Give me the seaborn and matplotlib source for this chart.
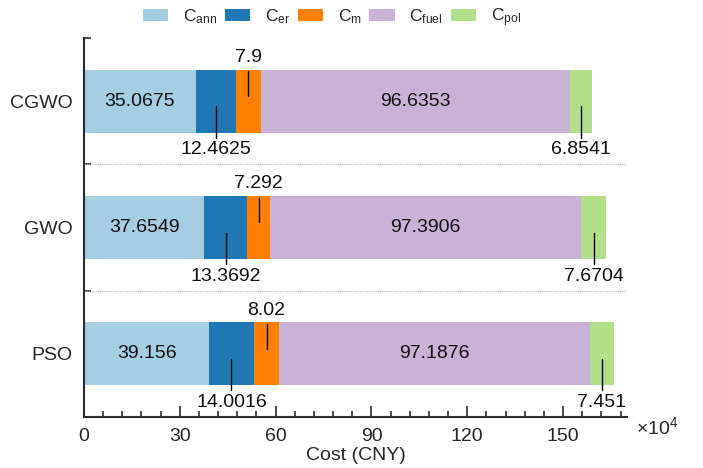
import numpy as np
import pandas as pd
import matplotlib
matplotlib.use("Agg")
import matplotlib.pyplot as plt
from matplotlib.patches import Patch
from matplotlib.ticker import MultipleLocator, FixedLocator
import seaborn as sns

methods = ["CGWO", "GWO", "PSO"]
c_ann = [35.0675, 37.6549, 39.156]
c_er = [12.4625, 13.3692, 14.0016]
c_m = [7.9, 7.292, 8.02]
c_fuel = [96.6353, 97.3906, 97.1876]
c_pol = [6.8541, 7.6704, 7.451]
comp_labels = [r"C$_{\mathrm{ann}}$", r"C$_{\mathrm{er}}$", r"C$_{\mathrm{m}}$",
               r"C$_{\mathrm{fuel}}$", r"C$_{\mathrm{pol}}$"]
colors = ["#a6cee3", "#1f78b4", "#ff7f00", "#cab2d6", "#b2df8a"]
# label placement per component: inside / below / above
placement = ["in", "below", "above", "in", "below"]

sns.set_style("ticks")
plt.rcParams["font.family"] = ["Liberation Sans", "DejaVu Sans"]
plt.rcParams["mathtext.fontset"] = "custom"
plt.rcParams["mathtext.rm"] = "Liberation Sans"
plt.rcParams["mathtext.it"] = "Liberation Sans"
plt.rcParams["mathtext.default"] = "regular"

vals = np.array([c_ann, c_er, c_m, c_fuel, c_pol])  # (5, 3)
cum = np.cumsum(vals, axis=0)
starts = cum - vals

fig = plt.figure(figsize=(7.03, 4.68), dpi=100)
ax = fig.add_axes([84 / 703, 1 - 417 / 468, 543 / 703, 379 / 468])

# draw cumulative bars from the last component to the first so they stack
for i in range(len(comp_labels) - 1, -1, -1):
    df = pd.DataFrame({"method": methods, "value": cum[i]})
    sns.barplot(data=df, x="value", y="method", orient="h", color=colors[i],
                width=0.5, ax=ax, saturation=1, linewidth=0, edgecolor="none")

fs = 14
for j in range(len(methods)):
    for i in range(len(comp_labels)):
        xc = starts[i, j] + vals[i, j] / 2
        txt = f"{vals[i, j]:g}"
        if placement[i] == "in":
            ax.text(xc, j, txt, ha="center", va="center", fontsize=fs, color="#111111")
        elif placement[i] == "below":
            ax.plot([xc, xc], [j + 0.04, j + 0.29], color="black", lw=1)
            ax.text(xc, j + 0.385, txt, ha="center", va="center", fontsize=fs, color="#111111")
        else:
            ax.plot([xc, xc], [j - 0.04, j - 0.235], color="black", lw=1)
            ax.text(xc, j - 0.345, txt, ha="center", va="center", fontsize=fs, color="#111111")

# separators
for yb in [0.5, 1.5]:
    ax.plot([0, 170], [yb, yb], color="#bbbbbb", lw=0.8, ls=(0, (1, 1)))

ax.set_xlim(0, 170)
ax.set_ylim(2.5, -0.5)
ax.xaxis.set_major_locator(MultipleLocator(30))
ax.xaxis.set_minor_locator(MultipleLocator(6))
ax.yaxis.set_minor_locator(FixedLocator([-0.5, 0.5, 1.5, 2.5]))
ax.set_yticks(range(len(methods)))
ax.set_yticklabels(methods)

for s in ["top", "right"]:
    ax.spines[s].set_visible(False)
for s in ["left", "bottom"]:
    ax.spines[s].set_color("#2a2a2a")
    ax.spines[s].set_linewidth(1.5)

ax.tick_params(axis="x", which="major", direction="in", length=8, width=1.2,
               color="#2a2a2a", labelsize=fs, pad=8)
ax.tick_params(axis="x", which="minor", direction="in", length=4, width=1.2,
               color="#2a2a2a")
ax.tick_params(axis="y", which="major", length=0, labelsize=fs, pad=8)
ax.tick_params(axis="y", which="minor", direction="in", length=5, width=1.2,
               color="#2a2a2a")

ax.set_xlabel("Cost (CNY)", fontsize=fs, labelpad=1)
ax.set_ylabel("")
ax.text(1.016, -0.028, r"$\times10^4$", transform=ax.transAxes, ha="left",
        va="center", fontsize=fs)

handles = [Patch(facecolor=c, edgecolor="none") for c in colors]
fig.legend(handles, comp_labels, loc="center", bbox_to_anchor=(0.472, 0.963),
           ncol=5, frameon=False, fontsize=12.5, handlelength=1.45, handleheight=0.65,
           handletextpad=0.85, columnspacing=0.45)

fig.savefig("out.png", dpi=100)
